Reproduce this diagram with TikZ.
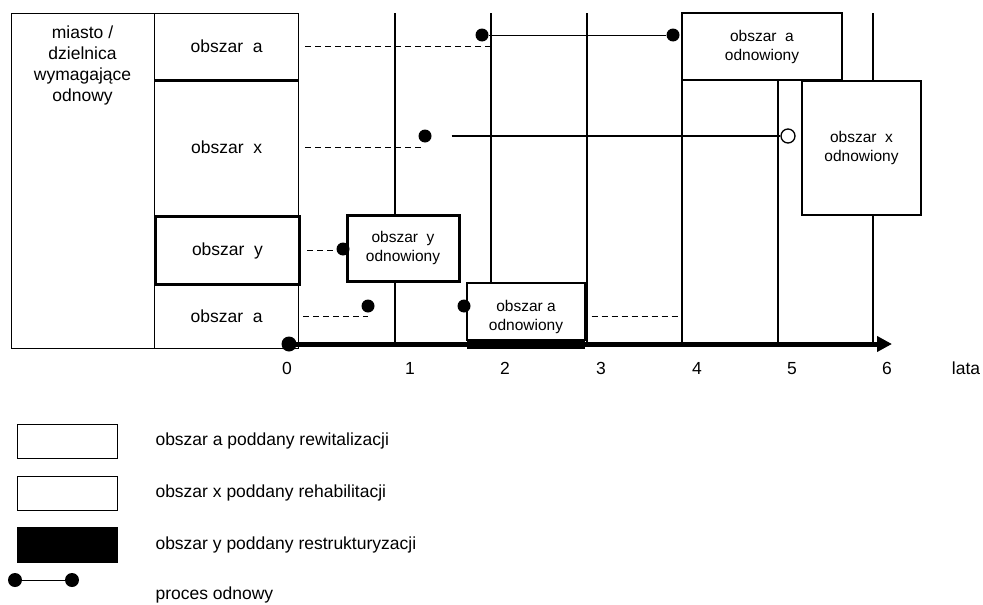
\documentclass[tikz,border=0pt]{standalone}
\usepackage{fontspec}
\setmainfont{Liberation Sans}
\usetikzlibrary{arrows.meta}
\begin{document}
\begin{tikzpicture}[x=1pt,y=-1pt,
  lbl/.style={font=\fontsize{17.5}{21}\selectfont},
  small/.style={font=\fontsize{15.5}{19}\selectfont, align=center},
  cell/.style={draw, line width=1.3pt, inner sep=0pt, lbl, minimum width=144pt},
  obox/.style={draw, line width=1.3pt, inner sep=0pt, fill=white, small},
  gridln/.style={line width=1.3pt},
  dashln/.style={line width=1.2pt, dash pattern=on 6pt off 4pt},
  dot/.style={circle, fill=black, minimum size=13pt, inner sep=0pt},
  odot/.style={circle, draw, fill=white, line width=1.3pt, minimum size=14pt, inner sep=0pt},
  proc/.style={line width=1pt},
  legbox/.style={draw, line width=1.3pt, minimum width=100pt, anchor=north west, inner sep=0pt},
  legtxt/.style={lbl, anchor=west}
]
\useasboundingbox (0,0) rectangle (983,605);

% grid verticals (years)
\draw[gridln] (395,13) -- (395,215) (395,281) -- (395,344);
\draw[gridln] (491,13) -- (491,283);
\draw[gridln] (587,13) -- (587,344);
\draw[gridln] (682,13) -- (682,344);
\draw[gridln] (778,80) -- (778,344);
\draw[gridln] (873,13) -- (873,81) (873,215) -- (873,344);

% left column
\node[draw, line width=1.3pt, minimum width=143pt, minimum height=335pt, inner sep=0pt, anchor=north west] (city) at (11,13) {};
\node[lbl, align=center, anchor=north] (citytxt) at (82.5,22) {miasto /\\dzielnica\\wymagające\\odnowy};

% area cells
\node[cell, minimum height=66pt, anchor=north west] (ra1) at (154,13) {obszar~ a};
\node[cell, minimum height=136pt, anchor=north west] (rx) at (154,79) {obszar~ x};
\node[cell, minimum height=65pt, anchor=north west] (ra2) at (154,283) {obszar~ a};
\node[cell, line width=3pt, minimum height=68pt, anchor=north west] (ry) at (154,215) {obszar~ y};
\draw[line width=3pt] (ra1.south west) -- (ra1.south east);

% renewed boxes
\node[obox, minimum width=160pt, minimum height=67pt] (aodnA) at (762,46.5) {obszar~ a\\odnowiony};
\node[obox, minimum width=119pt, minimum height=134pt] (xodn) at (861.5,148) {obszar~ x\\odnowiony};
\node[obox, line width=3pt, minimum width=112pt, minimum height=66pt] (yodn) at (403,248) {obszar~ y\\odnowiony};
\node[obox, minimum width=118pt, minimum height=57pt] (aodnB) at (526,311.5) {};
\node[small] (aodnBt) at ([yshift=-5pt]aodnB.center) {obszar a\\odnowiony};

% black bar and time axis
\fill (467,339) rectangle (585,349);
\node[dot, minimum size=15pt] (start) at (289,344) {};
\draw[line width=5pt, -{Triangle[length=15pt,width=15pt]}] (start.center) -- (892,344) coordinate (axend);

% year labels
\foreach \xx/\t in {287/0,410/1,505/2,601/3,697/4,792/5,887/6,966/lata}
  \node[lbl, anchor=base] at (\xx,374) {\t};

% renewal processes
\node[dot] (p1a) at (482,35) {};
\node[dot] (p1b) at (673,35) {};
\draw[proc] (p1a) -- (p1b);
\node[dot] (p2a) at (425,136) {};
\node[odot] (p2b) at (788,136) {};
\draw[line width=1.6pt, shorten <=20pt] (p2a) -- (p2b);
\node[dot] (p3) at (343,249) {};
\node[dot] (p4) at (368,306) {};
\node[dot] (p5) at (464,306) {};

% dashed links
\draw[dashln] ([xshift=6pt]ra1.east) -- ([xshift=-1pt]ra1.east -| 491,0);
\draw[dashln] ([xshift=6pt]rx.east) -- (rx.east -| p2a.south);
\draw[dashln] ([xshift=6pt]ry.east) -- (ry.east -| p3.west);
\draw[dashln] ([xshift=4pt]ra2.east) -- (ra2.east -| p4.south);
\draw[dashln] ([xshift=6pt]aodnB.east |- ra2.east) -- (ra2.east -| 679,0);

% legend
\node[legbox, minimum height=34pt] (lg1) at (17,424) {};
\node[legtxt] (lt1) at (152,441) {obszar a poddany rewitalizacji};
\node[legbox, minimum height=34pt] (lg2) at (17,476) {};
\node[legtxt] (lt2) at (152,493) {obszar x poddany rehabilitacji};
\node[legbox, fill=black, minimum height=35pt] (lg3) at (17,527) {};
\node[legtxt] (lt3) at (152,545) {obszar y poddany restrukturyzacji};
\node[dot, minimum size=14pt] (lpa) at (15,580) {};
\node[dot, minimum size=14pt] (lpb) at (72,580) {};
\draw[proc] (lpa) -- (lpb);
\node[legtxt] (lt4) at (152,595) {proces odnowy};
\end{tikzpicture}
\end{document}
